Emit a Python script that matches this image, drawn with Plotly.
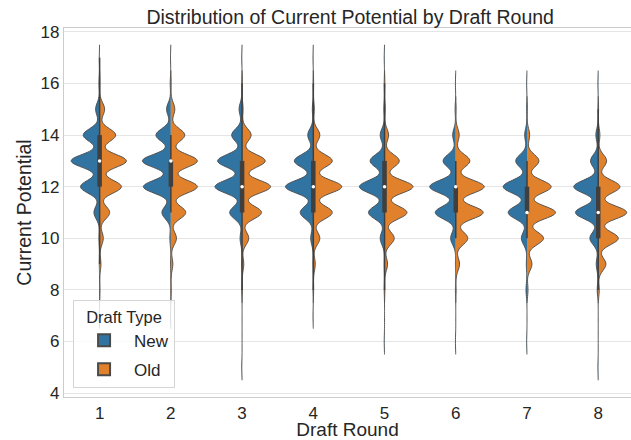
import numpy as np
import plotly.graph_objects as go

# Draft rounds and the integer Current Potential values
rounds = [1, 2, 3, 4, 5, 6, 7, 8]
potential_values = [5, 6, 7, 8, 9, 10, 11, 12, 13, 14, 15, 16, 17]

# Relative counts per potential value, New draft type
new_counts = [
    [0, 0, 1, 0, 1, 2, 17, 57, 85, 49, 12, 2, 1],    # round 1
    [0, 0, 1, 0, 1, 3, 27, 83, 86, 45, 13, 2, 1],    # round 2
    [1, 0, 0, 1, 1, 6, 37, 81, 73, 31, 9, 1, 1],     # round 3
    [0, 0, 1, 1, 1, 8, 40, 85, 58, 17, 3, 1, 1],     # round 4
    [0, 1, 0, 1, 1, 13, 48, 75, 43, 13, 2, 1, 1],    # round 5
    [0, 1, 0, 1, 1, 15, 60, 76, 37, 9, 2, 1, 0],     # round 6
    [0, 1, 0, 3, 2, 17, 57, 72, 34, 7, 1, 1, 0],     # round 7
    [1, 0, 0, 3, 6, 25, 68, 73, 23, 7, 1, 1, 0],     # round 8
]
# Old draft type
old_counts = [
    [0, 0, 0, 1, 4, 11, 30, 65, 80, 48, 15, 1, 0],   # round 1
    [0, 0, 0, 1, 6, 17, 45, 80, 80, 42, 12, 1, 0],   # round 2
    [0, 0, 0, 1, 5, 20, 58, 85, 69, 27, 3, 1, 0],    # round 3
    [0, 0, 0, 1, 6, 20, 58, 87, 58, 20, 3, 1, 0],    # round 4
    [0, 0, 0, 1, 9, 29, 67, 85, 44, 12, 2, 1, 0],    # round 5
    [0, 0, 0, 1, 11, 35, 80, 83, 41, 10, 1, 0, 0],   # round 6
    [0, 0, 0, 3, 15, 50, 86, 73, 36, 8, 1, 0, 0],    # round 7
    [0, 0, 0, 3, 23, 60, 85, 65, 25, 5, 1, 0, 0],    # round 8
]

draft_types = ["New", "Old"]
colors = {"New": "#3274a1", "Old": "#e1812c"}
gray = "#3f3f3f"
BW = 0.25
FULL_WIDTH = 0.8

fig = go.Figure()

for i, r in enumerate(rounds):
    nc = np.array(new_counts[i])
    oc = np.array(old_counts[i])
    round_max = max(nc.max(), oc.max())
    for dtype, counts, side in (("New", nc, "negative"), ("Old", oc, "positive")):
        samples = np.repeat(potential_values, counts).astype(float)
        fig.add_trace(go.Violin(
            x=np.full(samples.size, r),
            y=samples,
            name=dtype,
            legendgroup=dtype,
            showlegend=(i == 0),
            side=side,
            width=FULL_WIDTH * counts.max() / round_max,
            scalegroup=f"{dtype}{r}",
            scalemode="width",
            bandwidth=BW,
            spanmode="soft",
            points=False,
            fillcolor=colors[dtype],
            opacity=1,
            line=dict(color="#4a4a4a", width=0.9),
            hoverinfo="skip",
        ))

# inner box (combined data of both draft types), as seaborn draws it
for i, r in enumerate(rounds):
    data = np.concatenate([
        np.repeat(potential_values, new_counts[i]),
        np.repeat(potential_values, old_counts[i]),
    ]).astype(float)
    q25, q50, q75 = np.percentile(data, [25, 50, 75])
    lim = 1.5 * (q75 - q25)
    h1 = data[data >= q25 - lim].min()
    h2 = data[data <= q75 + lim].max()
    fig.add_trace(go.Scatter(x=[r, r], y=[h1, h2], mode="lines",
                             line=dict(color=gray, width=1.5),
                             showlegend=False, hoverinfo="skip"))
    fig.add_trace(go.Scatter(x=[r, r], y=[q25, q75], mode="lines",
                             line=dict(color=gray, width=4.5),
                             showlegend=False, hoverinfo="skip"))
    fig.add_trace(go.Scatter(x=[r], y=[q50], mode="markers",
                             marker=dict(color="white", size=3.5,
                                         line=dict(color=gray, width=0)),
                             showlegend=False, hoverinfo="skip"))

font_family = "Arial, 'Liberation Sans', sans-serif"
text_color = "#262626"

fig.update_layout(
    width=631, height=440,
    margin=dict(l=64, r=0, t=28, b=43, autoexpand=False),
    paper_bgcolor="white", plot_bgcolor="white",
    violinmode="overlay", violingap=0, violingroupgap=0,
    font=dict(family=font_family, color=text_color, size=17),
    title=dict(text="Distribution of Current Potential by Draft Round",
               x=0.555, xanchor="center", y=0.976, yanchor="top",
               font=dict(size=19.5, color=text_color)),
    xaxis=dict(
        range=[0.5, 8.46], automargin=False,
        tickmode="array", tickvals=rounds, ticktext=[str(r) for r in rounds],
        showgrid=False, zeroline=False,
        showline=True, linecolor="#cccccc", linewidth=1.2, mirror=True,
        ticks="", tickfont=dict(size=17, color=text_color),
        title=dict(text="Draft Round", font=dict(size=19, color=text_color), standoff=6),
    ),
    yaxis=dict(
        range=[3.85, 18.15], automargin=False,
        tickmode="array", tickvals=[4, 6, 8, 10, 12, 14, 16, 18],
        showgrid=True, gridcolor="#e5e5e5", gridwidth=1, zeroline=False,
        showline=True, linecolor="#cccccc", linewidth=1.2, mirror=True,
        ticks="", tickfont=dict(size=17, color=text_color),
        title=dict(text="Current Potential", font=dict(size=19.5, color=text_color), standoff=3),
    ),
    legend=dict(
        x=0.016, y=0.024, xanchor="left", yanchor="bottom",
        bgcolor="rgba(255,255,255,0.8)", bordercolor="#d5d5d5", borderwidth=1,
        font=dict(size=17, color=text_color),
        title=dict(text="Draft Type", side="top center", font=dict(size=16.5, color=text_color)),
        itemsizing="constant", itemwidth=50,
        tracegroupgap=4,
    ),
)

fig.write_html("out.html", post_script="document.body.style.margin='0px';",
               config={"displayModeBar": False})
